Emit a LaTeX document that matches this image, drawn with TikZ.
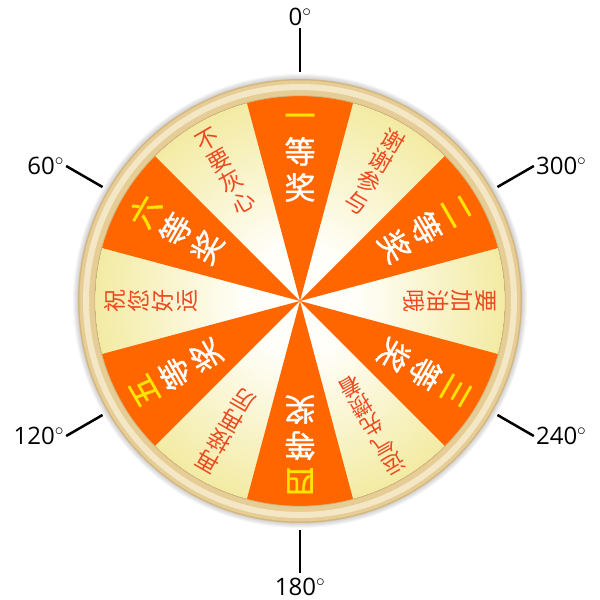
\documentclass[tikz,border=0pt]{standalone}
\usepackage{fontspec}
\setmainfont{Open Sans}
\newfontfamily\cjk{Noto Sans CJK SC}
\newfontfamily\cjkheavy[FakeBold=1.2]{Noto Sans CJK SC}
\usepackage{xcolor}
\usepackage{tikz}
\usetikzlibrary{calc}

\definecolor{wheelOrange}{HTML}{FF6600}
\definecolor{paleFill}{HTML}{F3EBA3}
\definecolor{paleCore}{HTML}{FFFEF8}
\definecolor{rimFill}{HTML}{E6CD96}
\definecolor{rimLight}{HTML}{F4E7C6}
\definecolor{rimDark}{HTML}{D4B77E}
\definecolor{rankTxt}{HTML}{FFE400}
\definecolor{cheerTxt}{HTML}{EE4A22}

\pgfdeclareradialshading{paleglow}{\pgfpoint{0bp}{0bp}}{%
  color(0bp)=(paleCore); color(7bp)=(paleCore);
  color(25bp)=(paleFill); color(50bp)=(paleFill)}

\tikzset{
  prize/.style={
    align=center, inner sep=0pt, text=white,
    font=\cjkheavy\fontsize{31}{36}\selectfont,
    execute at begin node=\strut, execute at end node=\strut
  },
  cheer/.style={
    align=center, inner sep=0pt, text=cheerTxt,
    font=\cjk\fontsize{23}{24}\selectfont,
    execute at begin node=\strut, execute at end node=\strut
  },
  small cheer/.style={cheer, font=\cjk\fontsize{22}{22}\selectfont},
  dial tick/.style={line width=2.5pt, color=black},
  deg/.style={font=\fontsize{24}{28}\selectfont, inner sep=1pt, text=black}
}

\begin{document}
\begin{tikzpicture}[x=1pt, y=1pt]
    \useasboundingbox (-300,-299) rectangle (300,301);

    % soft glow round the rim
    \foreach \r in {227,226,...,222}
      \fill[black, opacity=0.035] (0,0) circle (\r);

    % rim
    \fill[rimDark] (0,0) circle (222);
    \fill[rimFill] (0,0) circle (220.5);
    \draw[rimLight, line width=6pt] (0,0) circle (214);

    % pale disc and orange sectors
    \fill[shading=paleglow] (0,0) circle (205);
    \foreach \a in {90,30,-30,-90,-150,-210}
      \fill[wheelOrange] (0,0) -- (\a-15:205)
        arc[start angle=\a-15, end angle=\a+15, radius=205] -- cycle;
    \draw[rimDark, line width=0.8pt] (0,0) circle (205.3);

    % prizes
    \node[prize] (p1) at (90:139)
      {\textcolor{rankTxt}{一}\\等\\奖};
    \node[prize, rotate=-60] (p2) at (30:139)
      {\textcolor{rankTxt}{二}\\等\\奖};
    \node[prize, rotate=-120] (p3) at (-30:139)
      {\textcolor{rankTxt}{三}\\等\\奖};
    \node[prize, rotate=-180] (p4) at (-90:139)
      {\textcolor{rankTxt}{四}\\等\\奖};
    \node[prize, rotate=-240] (p5) at (-150:139)
      {\textcolor{rankTxt}{五}\\等\\奖};
    \node[prize, rotate=60] (p6) at (150:139)
      {\textcolor{rankTxt}{六}\\等\\奖};

    % cheering words
    \node[cheer, rotate=-30] (c1) at (60:147) {谢\\谢\\参\\与};
    \node[cheer, rotate=-90] (c2) at (0:147) {要\\加\\油\\哦};
    \node[small cheer, rotate=-150] (c3) at (-60:141) {运\\气\\先\\攒\\着};
    \node[cheer, rotate=-210] (c4) at (-120:147) {再\\接\\再\\厉};
    \node[cheer, rotate=90] (c5) at (180:147) {祝\\您\\好\\运};
    \node[cheer, rotate=30] (c6) at (120:147) {不\\要\\灰\\心};

    % angle marks
    \draw[dial tick] (90:229) -- (90:273)
      node[deg, anchor=south] (d0) {0$^{\circ}$};
    \draw[dial tick] (150:228) -- (150:270)
      node[deg, anchor=east] (d60) {60$^{\circ}$};
    \draw[dial tick] (210:228) -- (210:270)
      node[deg, anchor=east] (d120) {120$^{\circ}$};
    \draw[dial tick] (270:229) -- (270:272)
      node[deg, anchor=north, yshift=-3pt] (d180) {180$^{\circ}$};
    \draw[dial tick] (330:228) -- (330:270)
      node[deg, anchor=west] (d240) {240$^{\circ}$};
    \draw[dial tick] (30:228) -- (30:270)
      node[deg, anchor=west] (d300) {300$^{\circ}$};

  \end{tikzpicture}
\end{document}
